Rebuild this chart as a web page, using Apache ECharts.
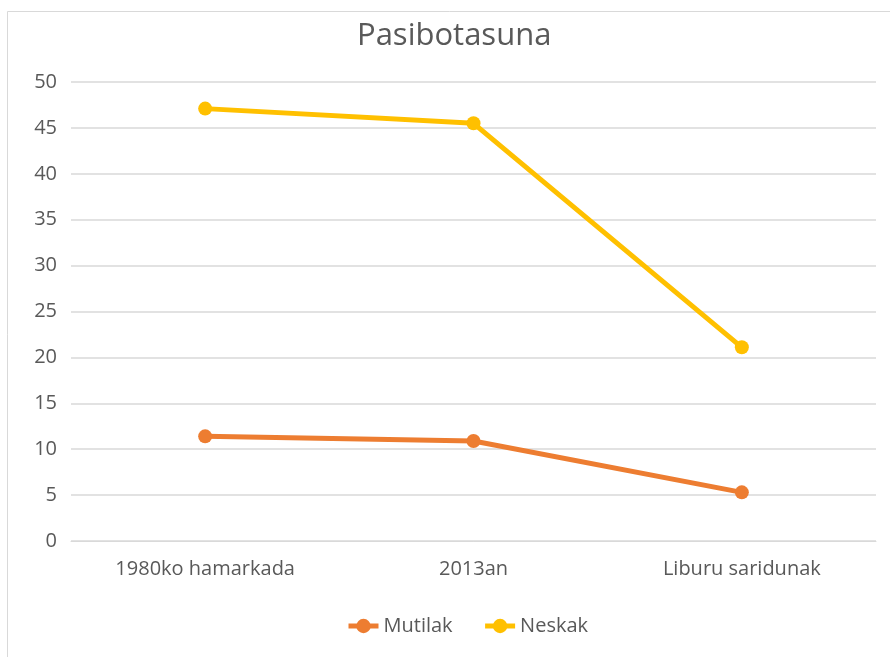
<!DOCTYPE html>
<html><head><meta charset="utf-8">
<script src="https://cdn.jsdelivr.net/npm/echarts@6/dist/echarts.min.js"></script>
<style>html,body{margin:0;padding:0;background:#fff}#c{width:890px;height:657px}</style>
</head><body><div id="c"></div>
<script>
const categories = ['1980ko hamarkada', '2013an', 'Liburu saridunak'];
const mutilak = [11.4, 10.9, 5.3];
const neskak = [47.1, 45.5, 21.1];
const yTicks = [0, 5, 10, 15, 20, 25, 30, 35, 40, 45, 50];

const chart = echarts.init(document.getElementById('c'));
const font = '"Open Sans", "Noto Sans", sans-serif';
chart.setOption({
  backgroundColor: '#fff',
  animation: false,
  graphic: [{type: 'rect', shape: {x: 7.5, y: 11.5, width: 900, height: 700}, style: {fill: 'none', stroke: '#D9D9D9', lineWidth: 1}, z: -1}],
  title: {text: 'Pasibotasuna', left: 352, top: 16, textStyle: {fontFamily: font, fontSize: 31, fontWeight: 'normal', color: '#595959'}},
  grid: {left: 71, right: 14, top: 82, bottom: 116},
  xAxis: {type: 'category', data: categories, boundaryGap: true,
    axisLine: {show: true, lineStyle: {color: '#D9D9D9', width: 1}}, axisTick: {show: false},
    axisLabel: {fontFamily: font, fontSize: 20, color: '#595959', margin: 18}},
  yAxis: {type: 'value', min: yTicks[0], max: yTicks[yTicks.length - 1], interval: 5,
    axisLine: {show: false}, axisTick: {show: false},
    axisLabel: {fontFamily: font, fontSize: 20, color: '#595959', margin: 14},
    splitLine: {lineStyle: {color: '#D9D9D9', width: 1.5}}},
  legend: {bottom: 16, left: 341, itemGap: 30, itemWidth: 30, itemHeight: 18,
    textStyle: {fontFamily: font, fontSize: 20, color: '#595959'},
    lineStyle: {width: 5},
    data: ['Mutilak', 'Neskak']},
  series: [
    {name: 'Mutilak', type: 'line', data: mutilak, symbol: 'circle', symbolSize: 14,
      lineStyle: {width: 5, color: '#ED7D31'}, itemStyle: {color: '#ED7D31'}},
    {name: 'Neskak', type: 'line', data: neskak, symbol: 'circle', symbolSize: 14,
      lineStyle: {width: 5, color: '#FFC000'}, itemStyle: {color: '#FFC000'}}
  ]
});
</script></body></html>
